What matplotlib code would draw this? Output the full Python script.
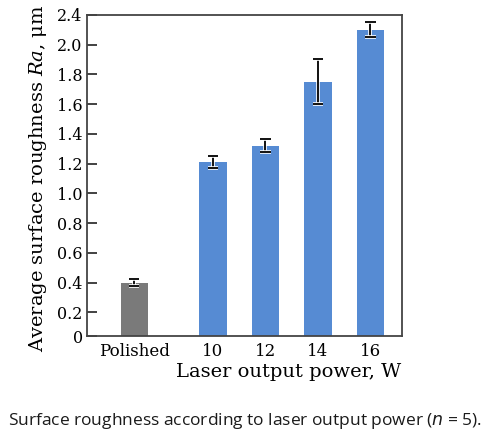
import numpy as np
import matplotlib
matplotlib.use("Agg")
import matplotlib.pyplot as plt
import matplotlib.patheffects as pe

categories = ["Polished", "10", "12", "14", "16"]
x_pos = [0, 1.5, 2.5, 3.5, 4.5]
ra_mean = [0.40, 1.21, 1.32, 1.75, 2.10]
ra_err = [0.025, 0.04, 0.045, 0.15, 0.05]
bar_colors = ["#7a7a7a", "#568bd3", "#568bd3", "#568bd3", "#568bd3"]
# the original axis is labelled 0..2.4 but its top sits where 2.2 would be
ytick_vals = [0.04, 0.2, 0.4, 0.6, 0.8, 1.0, 1.2, 1.4, 1.6, 1.8, 2.0, 2.2]
ytick_labels = ["0", "0.2", "0.4", "0.6", "0.8", "1.0", "1.2", "1.4", "1.6", "1.8", "2.0", "2.4"]

plt.rcParams["font.family"] = ["DejaVu Serif"]
plt.rcParams["mathtext.fontset"] = "custom"
plt.rcParams["mathtext.it"] = "DejaVu Serif:italic"

fig = plt.figure(figsize=(4.83, 4.37), dpi=100)
ax = fig.add_axes([0.180, 0.231, 0.652, 0.735])

ax.bar(x_pos, ra_mean, width=0.52, color=bar_colors, zorder=2)
eb = ax.errorbar(x_pos, ra_mean, yerr=ra_err, fmt="none", ecolor="#111111",
                 elinewidth=1.4, capsize=3.8, capthick=1.4, zorder=3)
for art in eb.lines[1] + eb.lines[2]:
    art.set_path_effects([pe.Stroke(linewidth=2.6, foreground="white"), pe.Normal()])

ax.set_xlim(-0.9, 5.1)
ax.set_ylim(0.04, 2.2)
ax.set_yticks(ytick_vals)
ax.set_yticklabels(ytick_labels, fontsize=11.5)
ax.set_xticks(x_pos)
ax.set_xticklabels(categories, fontsize=12)
ax.tick_params(axis="x", length=0, pad=5)
ax.tick_params(axis="y", direction="in", length=7, width=1.3, color="#333333", pad=3)
for s in ax.spines.values():
    s.set_linewidth(1.3)
    s.set_color("#444444")

ax.set_ylabel("Average surface roughness $\\it{Ra}$, μm", fontsize=14)
ax.yaxis.set_label_coords(-0.12, 0.49)
ax.set_xlabel("Laser output power, W", fontsize=14)
ax.xaxis.set_label_coords(0.64, -0.085)

fig.text(0.016, 0.036, "Surface roughness according to laser output power ($\\it{n}$ = 5).",
         fontsize=12.5, family="Open Sans", color="#1a1a1a", ha="left", va="center",
         math_fontfamily="dejavusans")
plt.savefig("out.png", dpi=100)
